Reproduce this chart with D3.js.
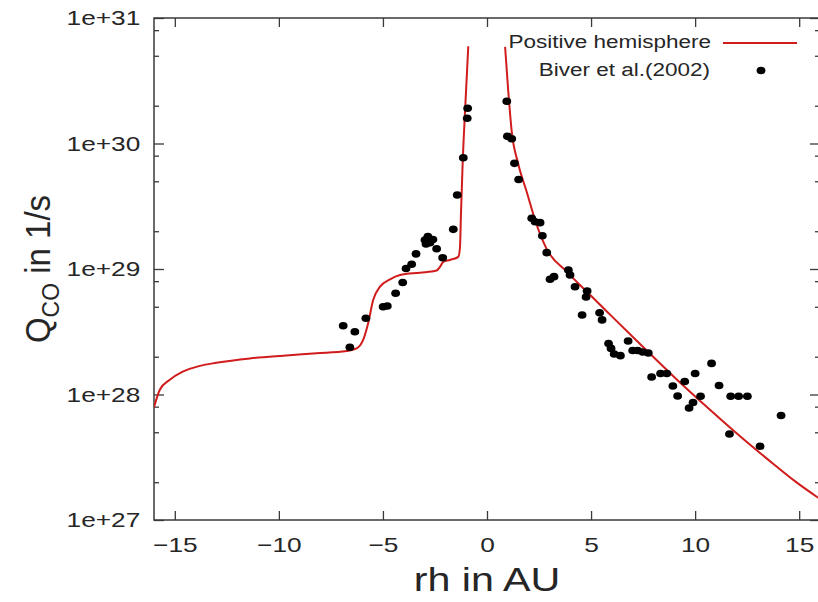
<!DOCTYPE html>
<html>
<head>
<meta charset="utf-8">
<script src="https://cdn.jsdelivr.net/npm/d3@7"></script>
<style>
  html, body { margin: 0; padding: 0; background: #fff; }
  svg { display: block; }
  text { font-family: "Liberation Sans", Arial, Helvetica, sans-serif; fill: #262626; }
</style>
</head>
<body>
<svg id="chart" width="818" height="602"></svg>
<script>
// ---- data ----
const xTicks = [-15, -10, -5, 0, 5, 10, 15];
const yTicks = [1e27, 1e28, 1e29, 1e30, 1e31];
const yMinorMultipliers = [2, 5, 8];

// model curve, negative rh branch
const modelNegX = [-16.0, -15.72, -15.24, -14.62, -13.80, -13.0, -11.39, -9.79, -8.19, -6.75, -6.26, -5.95, -5.71, -5.47, -5.14, -4.66, -4.18, -3.22, -2.42, -2.26, -2.10, -1.78, -1.38, -1.30, -1.25, -1.17, -1.06, -0.90];
const modelNegQ = [7.9e27, 1.09e28, 1.31e28, 1.52e28, 1.69e28, 1.79e28, 1.94e28, 2.04e28, 2.13e28, 2.22e28, 2.33e28, 2.72e28, 3.69e28, 5.66e28, 7.23e28, 8.28e28, 8.95e28, 9.35e28, 9.73e28, 1.04e29, 1.14e29, 1.18e29, 1.25e29, 1.47e29, 2.78e29, 6.95e29, 1.74e30, 5.96e30];

// model curve, positive rh branch
const modelPosX = [0.87, 1.01, 1.19, 1.49, 1.91, 2.39, 2.87, 3.83, 4.79, 5.77, 7.39, 8.99, 10.62, 12.23, 13.85, 14.81, 16.0];
const modelPosQ = [5.88e30, 2.77e30, 1.24e30, 7.0e29, 4.11e29, 2.24e29, 1.44e29, 9.53e28, 6.61e28, 4.57e28, 2.49e28, 1.38e28, 7.80e27, 4.54e27, 2.72e27, 2.03e27, 1.47e27];

// Biver et al. (2002) observations
const obsX = [-6.91, -6.35, -6.59, -5.82, -4.99, -4.79, -4.39, -4.05, -3.89, -3.62, -3.41, -2.98, -2.84, -2.93, -2.74, -2.60, -2.42, -2.13, -1.62, -1.43, -1.14, -0.95, -0.93,
  0.95, 0.98, 1.19, 1.32, 1.52, 2.15, 2.31, 2.55, 2.66, 2.87, 3.03, 3.22, 3.91, 3.99, 4.23, 4.81, 4.76, 4.57, 5.41, 5.53, 5.84, 5.96, 6.11, 6.41, 6.78, 7.00, 7.24, 7.48, 7.75, 7.91, 8.34, 8.64, 8.93, 9.16, 9.50, 10.00, 9.71, 9.90, 10.26, 10.79, 11.15, 11.71, 12.09, 12.51, 11.65, 13.12, 14.13];
const obsQ = [3.53e28, 3.16e28, 2.38e28, 4.05e28, 5.0e28, 5.07e28, 6.4e28, 7.8e28, 1.01e29, 1.09e29, 1.32e29, 1.70e29, 1.81e29, 1.58e29, 1.62e29, 1.72e29, 1.45e29, 1.23e29, 2.07e29, 3.89e29, 7.7e29, 1.59e30, 1.91e30,
  2.17e30, 1.14e30, 1.09e30, 6.95e29, 5.16e29, 2.54e29, 2.38e29, 2.34e29, 1.84e29, 1.35e29, 8.28e28, 8.69e28, 9.82e28, 8.96e28, 7.23e28, 6.68e28, 5.98e28, 4.30e28, 4.48e28, 3.93e28, 2.55e28, 2.33e28, 2.10e28, 2.04e28, 2.67e28, 2.24e28, 2.24e28, 2.18e28, 2.14e28, 1.38e28, 1.47e28, 1.47e28, 1.17e28, 9.73e27, 1.27e28, 1.47e28, 7.8e27, 8.63e27, 9.69e27, 1.77e28, 1.18e28, 9.69e27, 9.69e27, 9.69e27, 4.84e27, 3.87e27, 6.8e27];

const legendLabels = ["Positive hemisphere", "Biver et al.(2002)"];

// ---- layout ----
const svg = d3.select("#chart");
const L = 154, R = 820, T = 18, B = 520;
const SX = 1.25; // horizontal stretch of the glyphs in the original picture
const x = d3.scaleLinear().domain([-16, 16]).range([L, R]);
const y = d3.scaleLog().domain([1e27, 1e31]).range([B, T]);

const minorVals = [];
yTicks.slice(0, -1).forEach(d => yMinorMultipliers.forEach(m => minorVals.push(d * m)));

const axisColor = "#3a3a3a";
const tickFont = 21;

function styleAxis(g) {
  g.select(".domain").remove();
  g.selectAll(".tick line").attr("stroke", axisColor).attr("stroke-width", 1.3);
  g.selectAll(".tick text").attr("font-size", tickFont).attr("fill", "#262626")
    .attr("transform", `scale(${SX},1)`)
    .style("font-family", '"Liberation Sans", Arial, sans-serif');
}

// bottom axis
svg.append("g").attr("transform", `translate(0,${B})`)
  .call(d3.axisBottom(x).tickValues(xTicks).tickSizeInner(-9).tickSizeOuter(0).tickPadding(17)
    .tickFormat(d => d < 0 ? "\u2212" + Math.abs(d) : String(d)))
  .call(styleAxis);
// top axis (mirror)
svg.append("g").attr("transform", `translate(0,${T})`)
  .call(d3.axisTop(x).tickValues(xTicks).tickSizeInner(-9).tickSizeOuter(0).tickFormat(""))
  .call(styleAxis);
// left axis
svg.append("g").attr("transform", `translate(${L},0)`)
  .call(d3.axisLeft(y).tickValues(yTicks).tickSizeInner(-10).tickSizeOuter(0).tickPadding(11)
    .tickFormat(d => "1e+" + Math.round(Math.log10(d))))
  .call(styleAxis);
svg.append("g").attr("transform", `translate(${L},0)`)
  .call(d3.axisLeft(y).tickValues(minorVals).tickSizeInner(-5).tickSizeOuter(0).tickFormat(""))
  .call(styleAxis);
// right axis (mirror)
svg.append("g").attr("transform", `translate(${R},0)`)
  .call(d3.axisRight(y).tickValues(yTicks).tickSizeInner(-10).tickSizeOuter(0).tickFormat(""))
  .call(styleAxis);
svg.append("g").attr("transform", `translate(${R},0)`)
  .call(d3.axisRight(y).tickValues(minorVals).tickSizeInner(-5).tickSizeOuter(0).tickFormat(""))
  .call(styleAxis);

// border
svg.append("rect").attr("x", L).attr("y", T).attr("width", R - L).attr("height", B - T)
  .attr("fill", "none").attr("stroke", axisColor).attr("stroke-width", 1.5);

// clip
svg.append("clipPath").attr("id", "plotclip").append("rect")
  .attr("x", L).attr("y", T).attr("width", R - L).attr("height", B - T);

const line = d3.line().x(d => x(d[0])).y(d => y(d[1])).curve(d3.curveMonotoneX);
const red = "#d01c1c";
const plot = svg.append("g").attr("clip-path", "url(#plotclip)");
plot.append("path").datum(modelNegX.map((v, i) => [v, modelNegQ[i]]))
  .attr("d", line).attr("fill", "none").attr("stroke", red).attr("stroke-width", 2);
plot.append("path").datum(modelPosX.map((v, i) => [v, modelPosQ[i]]))
  .attr("d", line).attr("fill", "none").attr("stroke", red).attr("stroke-width", 2);

plot.selectAll("ellipse.obs").data(obsX.map((v, i) => [v, obsQ[i]])).enter()
  .append("ellipse").attr("class", "obs")
  .attr("cx", d => x(d[0])).attr("cy", d => y(d[1])).attr("rx", 4.4).attr("ry", 3.8).attr("fill", "#000");

// legend
const lg = svg.append("g");
lg.append("text").attr("transform", `translate(711,48) scale(${SX},1)`).attr("text-anchor", "end")
  .attr("font-size", 18).text(legendLabels[0]);
lg.append("line").attr("x1", 723).attr("x2", 797).attr("y1", 43).attr("y2", 43)
  .attr("stroke", red).attr("stroke-width", 1.8);
lg.append("text").attr("transform", `translate(710,76) scale(${SX},1)`).attr("text-anchor", "end")
  .attr("font-size", 18).text(legendLabels[1]);
lg.append("ellipse").attr("cx", 761).attr("cy", 70.5).attr("rx", 4.4).attr("ry", 3.8).attr("fill", "#000");

// axis titles
svg.append("text").attr("transform", `translate(487,591) scale(${SX},1)`).attr("text-anchor", "middle")
  .attr("font-size", 33).text("rh in AU");
const yt = svg.append("text").attr("transform", "translate(50,269) scale(1.08,1) rotate(-90)")
  .attr("text-anchor", "middle").attr("font-size", 33);
yt.append("tspan").text("Q");
yt.append("tspan").attr("font-size", 23).attr("dy", 8).text("CO");
yt.append("tspan").attr("dy", -8).text(" in 1/s");
</script>
</body>
</html>
